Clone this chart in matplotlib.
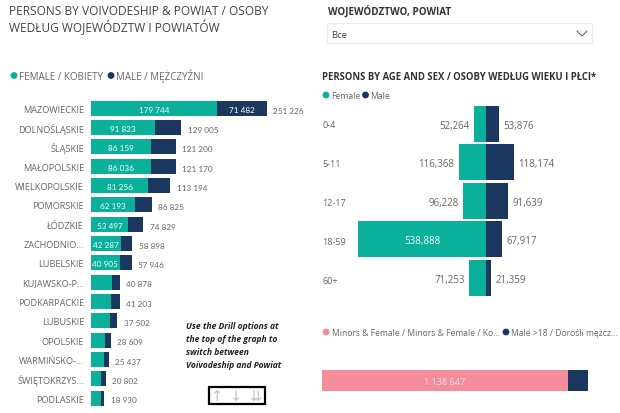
import matplotlib
matplotlib.use("Agg")
import matplotlib.pyplot as plt
from matplotlib.patches import Rectangle, Circle

W, H = 620, 414
TEAL = "#0AB09A"
NAVY = "#1B365F"
PINK = "#F48C9C"
GREY = "#666666"

voivodeships = ["MAZOWIECKIE", "DOLNOŚLĄSKIE", "ŚLĄSKIE", "MAŁOPOLSKIE", "WIELKOPOLSKIE",
                "POMORSKIE", "ŁÓDZKIE", "ZACHODNIO...", "LUBELSKIE", "KUJAWSKO-P...",
                "PODKARPACKIE", "LUBUSKIE", "OPOLSKIE", "WARMIŃSKO-...", "ŚWIĘTOKRZYS...", "PODLASKIE"]
female = [179744, 91823, 86159, 86036, 81256, 62193, 53497, 42287, 40905,
          29500, 29000, 27000, 20400, 18600, 14700, 13800]
male = [71482, 37182, 35041, 35134, 31938, 24632, 21332, 16611, 17041,
        11378, 12203, 10502, 8209, 6837, 6102, 5130]
totals = [251226, 129005, 121200, 121170, 113194, 86825, 74829, 58898, 57946,
          40878, 41203, 37502, 28609, 25437, 20802, 18930]
female_labels = ["179 744", "91 823", "86 159", "86 036", "81 256", "62 193", "53 497", "42 287", "40 905"]
male_labels = ["71 482"]
total_labels = ["251 226", "129 005", "121 200", "121 170", "113 194", "86 825", "74 829", "58 898",
                "57 946", "40 878", "41 203", "37 502", "28 609", "25 437", "20 802", "18 930"]

ages = ["0-4", "5-11", "12-17", "18-59", "60+"]
age_female = [52264, 116368, 96228, 538888, 71253]
age_male = [53876, 118174, 91639, 67917, 21359]

minors_female = [1138647]
adult_male = [92500]

plt.rcParams["font.family"] = ["Open Sans", "DejaVu Sans"]
fig = plt.figure(figsize=(W / 100, H / 100), dpi=100, facecolor="white")


def axes_px(x0, y0, x1, y1):
    ax = fig.add_axes([x0 / W, 1 - y1 / H, (x1 - x0) / W, (y1 - y0) / H])
    ax.axis("off")
    return ax


def txt(x, y, s, **kw):
    kw.setdefault("va", "baseline")
    kw.setdefault("color", GREY)
    fig.text(x / W, 1 - y / H, s, **kw)


def dot(x, y, r, c):
    bg.add_patch(Circle((x, y), r, color=c, lw=0))


bg = axes_px(0, 0, W, H)
bg.set_xlim(0, W)
bg.set_ylim(H, 0)

# Left panel
LATO = ["Lato", "DejaVu Sans"]
txt(9, 15, "PERSONS BY VOIVODESHIP & POWIAT / OSOBY", fontsize=8.6, color="#444444")
txt(9, 32, "WEDŁUG WOJEWÓDZTW I POWIATÓW", fontsize=8.6, color="#444444")
dot(14, 76.5, 3.4, TEAL)
txt(19, 80, "FEMALE / KOBIETY", fontsize=7, color=GREY)
dot(111, 76.5, 3.4, NAVY)
txt(116, 80, "MALE / MĘŻCZYŹNI", fontsize=7, color=GREY)

ax = axes_px(91, 99.5, 267, 408.7)
ax.set_xlim(0, 251226)
n = len(voivodeships)
ax.set_ylim(n - 0.5, -0.5)
ys = list(range(n))
ax.barh(ys, female, height=0.78, color=TEAL)
ax.barh(ys, male, left=female, height=0.78, color=NAVY)
for i, name in enumerate(voivodeships):
    ax.annotate(name, (0, i), xytext=(-5, 0), textcoords="offset points", ha="right",
                va="center_baseline", fontsize=6.6, color=GREY, annotation_clip=False)
    ax.annotate(total_labels[i], (totals[i], i), xytext=(4.5, -1), textcoords="offset points",
                ha="left", va="center_baseline", fontsize=5.9, color=GREY,
                family=LATO, annotation_clip=False)
for i, lab in enumerate(female_labels):
    ax.text(female[i] / 2, i + 0.03, lab, ha="center", va="center_baseline", fontsize=5.9,
            color="white", family=LATO)
for i, lab in enumerate(male_labels):
    ax.text(female[i] + male[i] / 2, i + 0.03, lab, ha="center", va="center_baseline", fontsize=5.9,
            color="white", family=LATO)

# Note and drill box
for i, line in enumerate(["Use the Drill options at", "the top of the graph to", "switch between", "Voivodeship and Powiat"]):
    txt(186, 329 + i * 13, line, fontsize=6.1, style="italic", weight="bold", color="#222222")
bg.add_patch(Rectangle((209, 388), 56, 17, fill=False, ec="black", lw=1.6))
for x, s in [(217, "↑"), (236, "↓"), (255, "⇊")]:
    txt(x, 396.5, s, fontsize=10.5, ha="center", va="center", color="#C4C4C4", family="DejaVu Sans")

# Slicer
txt(328, 15, "WOJEWÓDZTWO, POWIAT", fontsize=7.1, weight="bold", color="#333333")
bg.add_patch(Rectangle((326.5, 24), 265, 20, fc="white", ec="#EAEAEA", lw=0.8))
txt(331, 37.5, "Все", fontsize=6.8, color="#444444")
bg.plot([577, 582, 587], [32, 37, 32], color="#555555", lw=0.7)

# Pyramid
txt(322, 79.5, "PERSONS BY AGE AND SEX / OSOBY WEDŁUG WIEKU I PŁCI*", fontsize=6.85, weight="bold", color="#333333")
dot(326, 96, 3.4, TEAL)
txt(331, 99, "Female", fontsize=6.2, color=GREY)
dot(365.5, 96, 3.4, NAVY)
txt(370.5, 99, "Male", fontsize=6.2, color=GREY)

ax2 = axes_px(358, 105.5, 514.3, 298)
ax2.set_xlim(-538888, 118174)
ax2.set_ylim(len(ages) - 0.5, -0.5)
yy = list(range(len(ages)))
neg = [-v for v in age_female]
ax2.barh(yy, neg, height=0.93, color=TEAL)
ax2.barh(yy, age_male, height=0.93, color=NAVY)
for i, a in enumerate(ages):
    txt(322, 128 + i * 39, a, fontsize=6.5, color=GREY)
    if age_female[i] > 300000:
        ax2.text(neg[i] / 2, i, f"{age_female[i]:,}", ha="center", va="center_baseline", fontsize=7, color="white")
    else:
        ax2.annotate(f"{age_female[i]:,}", (neg[i], i), xytext=(-3, 0), textcoords="offset points",
                     ha="right", va="center_baseline", fontsize=7, color=GREY, annotation_clip=False)
    ax2.annotate(f"{age_male[i]:,}", (age_male[i], i), xytext=(3, 0), textcoords="offset points",
                 ha="left", va="center_baseline", fontsize=7, color=GREY, annotation_clip=False)

# Bottom stacked bar
dot(326, 333, 3.4, PINK)
txt(331.5, 336, "Minors & Female / Minors & Female / Ko...", fontsize=6.15, color=GREY)
dot(506, 333, 3.4, NAVY)
txt(511, 336, "Male >18 / Dorośli mężcz...", fontsize=6.15, color=GREY)

ax3 = axes_px(322, 370.5, 588, 392)
ax3.set_xlim(0, minors_female[0] + adult_male[0])
ax3.set_ylim(-0.5, 0.5)
ax3.barh([0], minors_female, height=1, color=PINK)
ax3.barh([0], adult_male, left=minors_female, height=1, color=NAVY)
ax3.text(minors_female[0] / 2, 0, "1 138 647", ha="center", va="center_baseline", fontsize=6.5, color="#FBE3E6")

fig.savefig("out.png", dpi=100)
